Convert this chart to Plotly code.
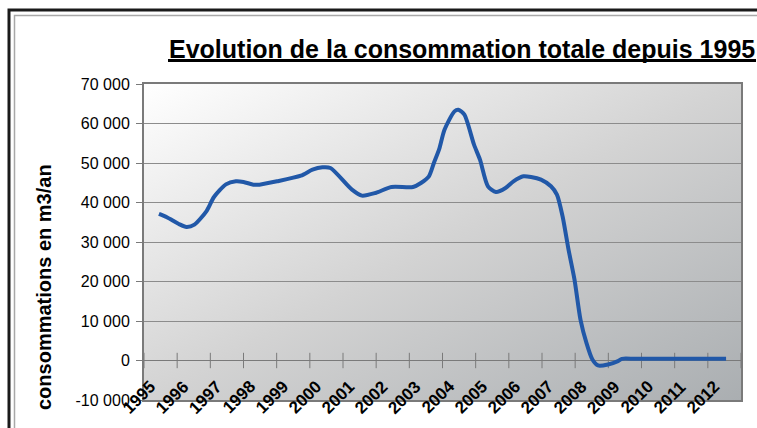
import base64
import plotly.graph_objects as go

# ---- data ----
years = [1995.45, 1995.69, 1996.05, 1996.28, 1996.52, 1996.88, 1997.11, 1997.47, 1997.77,
         1998.00, 1998.30, 1998.48, 1999.01, 1999.73, 2000.08, 2000.38, 2000.62, 2001.27,
         2001.57, 2001.98, 2002.46, 2003.11, 2003.35, 2003.59, 2003.74, 2003.90, 2004.06,
         2004.36, 2004.48, 2004.66, 2004.95, 2005.13, 2005.37, 2005.61, 2005.90, 2006.14,
         2006.44, 2006.67, 2006.97, 2007.27, 2007.45, 2007.62, 2007.80, 2007.98, 2008.16,
         2008.34, 2008.52, 2008.69, 2008.99, 2009.29, 2009.41, 2009.80, 2010.50, 2011.50,
         2012.55]
consommation = [37100, 36260, 34570, 33810, 34400, 37770, 41400, 44600, 45360,
                45190, 44520, 44520, 45360, 46800, 48310, 48900, 48740, 43250,
                41740, 42410, 43930, 43930, 44940, 46630, 50000, 53500, 58430,
                63070, 63490, 62230, 54640, 50840, 44100, 42660, 43680, 45360,
                46630, 46460, 45780, 44100, 41990, 36510, 28080, 20490, 10370,
                4470, 250, -1260, -1010, -170, 420, 420, 420, 420,
                420]

x_tick_years = list(range(1995, 2013))
x_tick_labels = [str(y) for y in x_tick_years]
axis_marks = list(range(1995, 2014))
y_tick_vals = list(range(-10000, 70001, 10000))
y_tick_labels = ["-10 000", "0", "10 000", "20 000", "30 000", "40 000", "50 000", "60 000", "70 000"]

title_text = "Evolution de la consommation totale depuis 1995"
y_title = "consommations en m3/an"

# ---- layout geometry (pixels) ----
W, H = 757, 428
L, R, T, B = 144, 741, 84, 400
pw, ph = R - L, B - T


def px(x):
    return (x - L) / pw


def py(y):
    return (B - y) / ph


FONT = "Liberation Sans, Arial, sans-serif"

svg = (
    f'<svg xmlns="http://www.w3.org/2000/svg" width="{pw}" height="{ph}" '
    f'viewBox="0 0 {pw} {ph}" preserveAspectRatio="none">'
    '<defs><linearGradient id="g" x1="0" y1="0" x2="1" y2="1">'
    '<stop offset="0" stop-color="#ffffff"/>'
    '<stop offset="0.5" stop-color="#d3d3d3"/>'
    '<stop offset="1" stop-color="#aaaeb1"/>'
    '</linearGradient></defs>'
    f'<rect width="{pw}" height="{ph}" fill="url(#g)"/></svg>'
)
bg_src = "data:image/svg+xml;base64," + base64.b64encode(svg.encode()).decode()

fig = go.Figure()

# crossing tick marks on the zero line
fig.add_trace(go.Scatter(
    x=axis_marks, y=[0] * len(axis_marks), mode="markers",
    marker=dict(symbol="line-ns", size=11, line=dict(width=1, color="#7a7a7a")),
    hoverinfo="skip", showlegend=False, cliponaxis=False,
))

fig.add_trace(go.Scatter(
    x=years, y=consommation, mode="lines",
    line=dict(color="#2158a8", width=4, shape="spline", smoothing=0.7),
    showlegend=False,
))

# rotated year labels (Excel style, overlapping the bottom border)
year_annotations = [
    dict(text="<b>" + lab + "</b>", x=yr, xref="x", y=py(397), yref="paper",
         xshift=-5, xanchor="center", yanchor="middle", textangle=-45, showarrow=False,
         font=dict(size=17, family=FONT, color="black"))
    for yr, lab in zip(x_tick_years, x_tick_labels)
]

fig.update_layout(
    width=W, height=H,
    margin=dict(l=L, r=W - R, t=T, b=H - B, autoexpand=False),
    paper_bgcolor="white",
    plot_bgcolor="rgba(0,0,0,0)",
    font=dict(family=FONT, color="black"),
    images=[dict(source=bg_src, xref="paper", yref="paper", x=0, y=1,
                 sizex=1, sizey=1, sizing="stretch", xanchor="left", yanchor="top",
                 layer="below")],
    xaxis=dict(
        range=[1995, 2013], showticklabels=False,
        showgrid=False, zeroline=False, ticks="", automargin=False,
        showline=True, mirror=True, linecolor="#7a7a7a", linewidth=2,
    ),
    yaxis=dict(
        range=[-10000, 70000], tickmode="array", tickvals=y_tick_vals, ticktext=y_tick_labels,
        tickfont=dict(size=16, family=FONT, color="black"), automargin=False,
        showgrid=True, gridcolor="#8c8c8c", gridwidth=1,
        zeroline=True, zerolinecolor="#7a7a7a", zerolinewidth=1,
        ticks="outside", ticklen=6, tickcolor="#7a7a7a", tickwidth=1,
        showline=True, mirror=True, linecolor="#7a7a7a", linewidth=2,
        ticklabelstandoff=3,
    ),
    annotations=[
        dict(text="<b>" + title_text + "</b>", xref="paper", yref="paper",
             x=px(461.5), y=py(49), xanchor="center", yanchor="middle", showarrow=False,
             font=dict(size=25, family=FONT, color="black")),
        dict(text="<b>" + y_title + "</b>", xref="paper", yref="paper",
             x=px(44), y=py(287), xanchor="center", yanchor="middle", showarrow=False,
             textangle=-90, font=dict(size=20, family=FONT, color="black")),
    ] + year_annotations,
    shapes=[
        dict(type="rect", xref="paper", yref="paper", x0=px(9), y0=py(10), x1=px(780), y1=py(445),
             line=dict(color="#1a1a1a", width=3), fillcolor="rgba(0,0,0,0)"),
        dict(type="rect", xref="paper", yref="paper", x0=px(14.5), y0=py(15.5), x1=px(775), y1=py(440),
             line=dict(color="#a8a8a8", width=1.5), fillcolor="rgba(0,0,0,0)"),
        # title underline
        dict(type="line", xref="paper", yref="paper", x0=px(168), y0=py(60.5), x1=px(756), y1=py(60.5),
             line=dict(color="black", width=3)),
    ],
)

fig.write_html("out.html", config={"displayModeBar": False},
               post_script="document.body.style.margin='0';document.body.style.overflow='hidden';")
